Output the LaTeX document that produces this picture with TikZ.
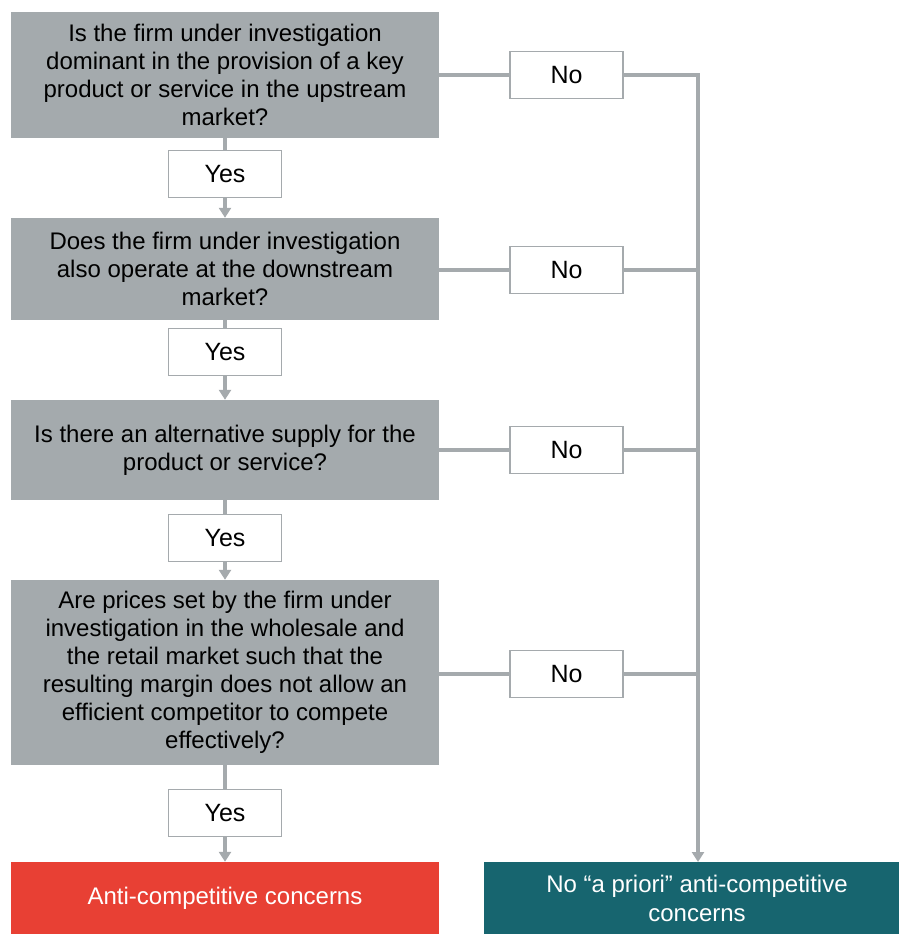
\documentclass[tikz,border=0pt]{standalone}
\usepackage{fontspec}
\setmainfont{Liberation Sans}
\usetikzlibrary{arrows.meta}
\definecolor{boxgrey}{HTML}{A4AAAD}
\definecolor{linegrey}{HTML}{A5AAAD}
\definecolor{alertred}{HTML}{E84034}
\definecolor{okteal}{HTML}{17656F}
\begin{document}
\begin{tikzpicture}[x=1pt,y=-1pt,
  question/.style={fill=boxgrey, minimum width=428pt, align=center, inner sep=0pt,
    font=\fontsize{24}{28}\selectfont, text=black},
  answer/.style={draw=linegrey, line width=1.5pt, fill=white, minimum width=113pt,
    minimum height=47pt, inner sep=0pt, font=\fontsize{25}{28}\selectfont},
  outcome/.style={minimum height=72pt, align=center, inner sep=0pt, text=white,
    font=\fontsize{24}{29}\selectfont},
  flow/.style={draw=linegrey, line width=3.5pt},
  tip/.style={-{Triangle[width=12pt,length=10pt]}}
]
\useasboundingbox (0,0) rectangle (898,934);

% decision boxes
\node[question, minimum height=126pt] (q1) at (225,75)
  {Is the firm under investigation\\dominant in the provision of a key\\product or service in the upstream\\market?};
\node[question, minimum height=102pt] (q2) at (225,269)
  {Does the firm under investigation\\also operate at the downstream\\market?};
\node[question, minimum height=100pt] (q3) at (225,450)
  {Is there an alternative supply for the\\product or service?};
\node[question, minimum height=185pt] (q4) at (225,672.5)
  {Are prices set by the firm under\\investigation in the wholesale and\\the retail market such that the\\resulting margin does not allow an\\efficient competitor to compete\\effectively?};

% outcomes (the teal box runs past the right margin)
\node[outcome, fill=alertred, minimum width=428pt] (bad) at (225,898)
  {Anti-competitive concerns};
\node[outcome, fill=okteal, minimum width=426pt] (ok) at (697,898)
  {No “a priori” anti-competitive\\concerns};

% collecting line on the right
\coordinate (bus) at (698,75);
\coordinate (busend) at (698,862);

% yes / no answer boxes
\node[answer] (y1) at (225,174) {Yes};
\node[answer] (y2) at (225,352) {Yes};
\node[answer] (y3) at (225,538) {Yes};
\node[answer] (y4) at (225,813) {Yes};
\node[answer] (n1) at (566.5,75) {No};
\node[answer] (n2) at (566.5,270) {No};
\node[answer] (n3) at (566.5,450) {No};
\node[answer] (n4) at (566.5,674) {No};

% connectors down the yes path
\draw[flow] (q1.south) -- (y1.north);
\draw[flow,tip] (y1.south) -- (q2.north);
\draw[flow] (q2.south) -- (y2.north);
\draw[flow,tip] (y2.south) -- (q3.north);
\draw[flow] (q3.south) -- (y3.north);
\draw[flow,tip] (y3.south) -- (q4.north);
\draw[flow] (q4.south) -- (y4.north);
\draw[flow,tip] (y4.south) -- (bad.north);

% connectors along the no path
\draw[flow] (q1.east) -- (n1.west);
\draw[flow] (q2.east |- n2.west) -- (n2.west);
\draw[flow] (q3.east) -- (n3.west);
\draw[flow] (q4.east |- n4.west) -- (n4.west);
\draw[flow,tip] (n1.east) -| (busend);
\draw[flow] (n2.east) -- (n2.east -| bus);
\draw[flow] (n3.east) -- (n3.east -| bus);
\draw[flow] (n4.east) -- (n4.east -| bus);

% answer boxes again, above the connector ends
\node[answer] at (y1) {Yes};
\node[answer] at (y2) {Yes};
\node[answer] at (y3) {Yes};
\node[answer] at (y4) {Yes};
\node[answer] at (n1) {No};
\node[answer] at (n2) {No};
\node[answer] at (n3) {No};
\node[answer] at (n4) {No};
\end{tikzpicture}
\end{document}
